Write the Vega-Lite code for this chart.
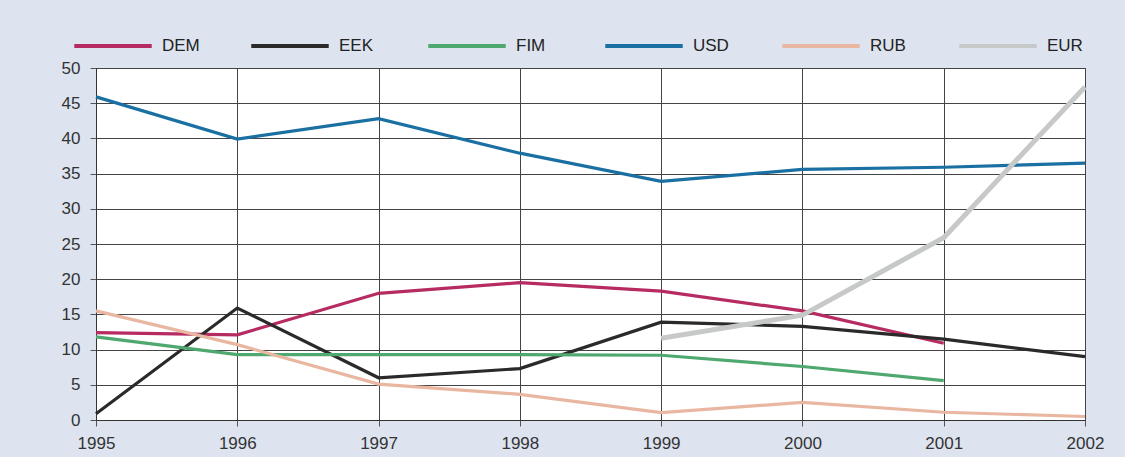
{
  "$schema": "https://vega.github.io/schema/vega-lite/v6.json",
  "width": 989,
  "height": 352,
  "autosize": {"type": "none"},
  "padding": {"left": 96, "top": 68, "right": 40, "bottom": 37},
  "background": "#dde4f0",
  "data": {
    "values": [
      {"year": 1995, "currency": "DEM", "value": 12.4},
      {"year": 1996, "currency": "DEM", "value": 12.1},
      {"year": 1997, "currency": "DEM", "value": 18.0},
      {"year": 1998, "currency": "DEM", "value": 19.5},
      {"year": 1999, "currency": "DEM", "value": 18.3},
      {"year": 2000, "currency": "DEM", "value": 15.5},
      {"year": 2001, "currency": "DEM", "value": 10.9},
      {"year": 1995, "currency": "EEK", "value": 0.9},
      {"year": 1996, "currency": "EEK", "value": 15.9},
      {"year": 1997, "currency": "EEK", "value": 6.0},
      {"year": 1998, "currency": "EEK", "value": 7.3},
      {"year": 1999, "currency": "EEK", "value": 13.9},
      {"year": 2000, "currency": "EEK", "value": 13.3},
      {"year": 2001, "currency": "EEK", "value": 11.5},
      {"year": 2002, "currency": "EEK", "value": 9.0},
      {"year": 1995, "currency": "FIM", "value": 11.8},
      {"year": 1996, "currency": "FIM", "value": 9.3},
      {"year": 1997, "currency": "FIM", "value": 9.3},
      {"year": 1998, "currency": "FIM", "value": 9.3},
      {"year": 1999, "currency": "FIM", "value": 9.2},
      {"year": 2000, "currency": "FIM", "value": 7.6},
      {"year": 2001, "currency": "FIM", "value": 5.6},
      {"year": 1995, "currency": "USD", "value": 45.9},
      {"year": 1996, "currency": "USD", "value": 39.9},
      {"year": 1997, "currency": "USD", "value": 42.8},
      {"year": 1998, "currency": "USD", "value": 37.9},
      {"year": 1999, "currency": "USD", "value": 33.9},
      {"year": 2000, "currency": "USD", "value": 35.6},
      {"year": 2001, "currency": "USD", "value": 35.9},
      {"year": 2002, "currency": "USD", "value": 36.5},
      {"year": 1995, "currency": "RUB", "value": 15.5},
      {"year": 1996, "currency": "RUB", "value": 10.7},
      {"year": 1997, "currency": "RUB", "value": 5.1},
      {"year": 1998, "currency": "RUB", "value": 3.65},
      {"year": 1999, "currency": "RUB", "value": 1.05},
      {"year": 2000, "currency": "RUB", "value": 2.5},
      {"year": 2001, "currency": "RUB", "value": 1.1},
      {"year": 2002, "currency": "RUB", "value": 0.5},
      {"year": 1999, "currency": "EUR", "value": 11.6},
      {"year": 2000, "currency": "EUR", "value": 14.9},
      {"year": 2001, "currency": "EUR", "value": 25.9},
      {"year": 2002, "currency": "EUR", "value": 47.3}
    ]
  },
  "mark": {"type": "line", "strokeJoin": "miter"},
  "encoding": {
    "x": {
      "field": "year",
      "type": "quantitative",
      "scale": {"domain": [1995, 2002], "nice": false, "zero": false},
      "axis": {
        "title": null,
        "values": [1995, 1996, 1997, 1998, 1999, 2000, 2001, 2002],
        "format": "d",
        "labelFlush": false,
        "labelOverlap": false,
        "labelPadding": 9
      }
    },
    "y": {
      "field": "value",
      "type": "quantitative",
      "scale": {"domain": [0, 50], "nice": false},
      "axis": {
        "title": null,
        "values": [0, 5, 10, 15, 20, 25, 30, 35, 40, 45, 50],
        "labelPadding": 10
      }
    },
    "color": {
      "field": "currency",
      "type": "nominal",
      "scale": {
        "domain": ["DEM", "EEK", "FIM", "USD", "RUB", "EUR"],
        "range": ["#b72b63", "#2a2a2a", "#4ea86f", "#1a70a2", "#e9b7a1", "#c6c9c8"]
      },
      "legend": {
        "title": null,
        "orient": "none",
        "legendX": -24,
        "legendY": -63,
        "direction": "horizontal",
        "gridAlign": "all",
        "symbolType": "stroke",
        "symbolSize": 6000,
        "symbolStrokeWidth": 4,
        "labelFontSize": 17,
        "labelOffset": 8,
        "columnPadding": 43,
        "labelColor": "#222"
      }
    },
    "strokeWidth": {
      "condition": {"test": "datum.currency === 'EUR'", "value": 5},
      "value": 3.2
    },
    "order": {"field": "year", "type": "quantitative"}
  },
  "config": {
    "font": "Liberation Sans",
    "view": {"fill": "white", "stroke": "#333", "strokeWidth": 1},
    "axis": {
      "grid": true,
      "gridColor": "#444",
      "gridOpacity": 1,
      "gridWidth": 1,
      "domainColor": "#333",
      "tickColor": "#555",
      "tickSize": 6,
      "labelFontSize": 17,
      "labelColor": "#333"
    }
  }
}
